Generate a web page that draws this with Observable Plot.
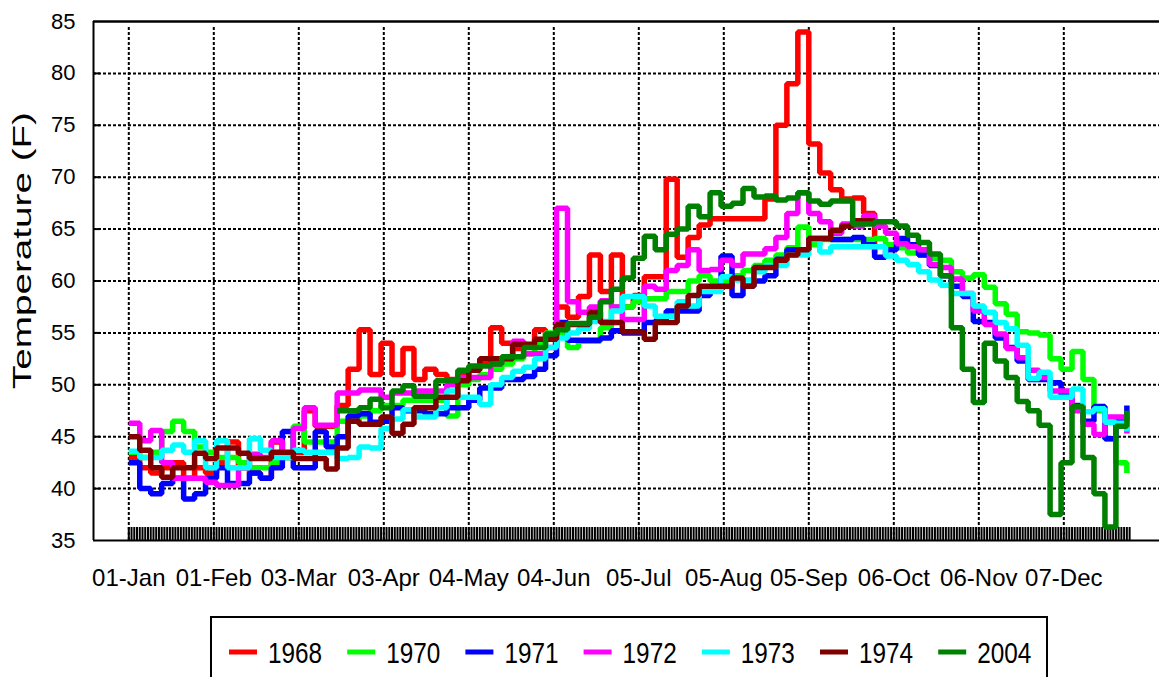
<!DOCTYPE html>
<html><head><meta charset="utf-8">
<script src="https://cdn.jsdelivr.net/npm/d3@7"></script>
<script src="https://cdn.jsdelivr.net/npm/@observablehq/plot@0.6"></script>
<style>
html,body{margin:0;padding:0;background:#fff;overflow:hidden;}
#chart{width:1159px;height:677px;position:relative;}
#chart svg{display:block;}
</style></head><body><div id="chart"></div>
<script>
// sample days (every 4 days, day 0 = 01-Jan)
const days = d3.range(0, 365, 4);
const tickDays = [0, 31, 62, 93, 124, 155, 186, 217, 248, 279, 310, 341];
const tickLabels = ["01-Jan","01-Feb","03-Mar","03-Apr","04-May","04-Jun","05-Jul","05-Aug","05-Sep","06-Oct","06-Nov","07-Dec"];
const yTicks = [35, 40, 45, 50, 55, 60, 65, 70, 75, 80, 85];
const years = ["1968","1970","1971","1972","1973","1974","2004"];
const colors = ["#ff0000","#00ff00","#0000ff","#ff00ff","#00ffff","#800000","#008000"];
const N = null;

const t1968 = [43,42,41.5,42,42.5,41,42,41.5,42.5,44.5,
42,41.5,41,44.5,43,43.5,47.5,46,46,48,
51.5,55.3,51,54,51,53.5,50.5,51.5,51,50.5,
51,51.5,52,55.5,54,53.5,53.8,55.3,54.5,57.5,
56.5,58.5,62.5,59,62.5,57.5,58.6,60.4,60.4,69.8,
62.3,64.2,65.4,66,66,66,66,66,67.9,75,
79,84,73.2,70.4,68.8,67.9,68,66.5,62.7,N,
N,N,N,N,N,N,N,N,N,N,
N,N,N,N,N,N,N,N,N,N,
N,N];
const t1970 = [43.5,43,43.5,45.5,46.5,45.5,44,43.5,43,43,
42.5,42,42,42.5,43,46,44.5,44.5,44.5,46.5,
46.5,47,47.5,48,48,48.5,48.5,48.5,48.5,47,
50,50.5,51,51.5,52,52.5,53,54,55,55,
53.6,54.2,54.2,55.5,57.5,57.5,58,58.3,58.3,59,
59,60,60.5,60,60,60.5,61,61.5,62,62.5,
63.2,65.2,63.5,64,64,64,64,64,64.1,63.5,
63.2,62.7,62.5,62.2,62,60.9,60.3,60.6,59.4,57.8,
56.8,55.1,55,54.8,52.5,51.5,53.2,50.5,47.5,44.8,
42.5,41.5];
const t1971 = [42.5,40,39.5,40.5,41,39,39.5,41,42,40.5,
40.5,41.5,41,42,45.5,42,42,45.5,44,45,
47,47.2,46.4,46.5,47.8,47.5,47.5,47.2,47.2,47.8,
47.8,48.5,49.7,49.7,50.5,50.5,50.8,51.5,52.8,56,
54.3,54.3,54.3,54.5,55.2,55,55,56,56.2,57.1,
57.1,57.1,58.6,59.1,62.4,58.6,59.5,60,60.5,62.1,
63,63,64.1,64.1,64,64,64.2,63.5,62.3,63,
64.1,63.5,62.5,61.5,60.5,59.5,58.5,56.1,56,54.5,
53.6,52.3,50.5,50.5,50.2,49,48,46.5,47.9,44.8,
46.6,48];
const t1972 = [46.3,44.6,45.6,42.5,41,41,41,40.6,40.3,40.3,
42,43.3,43,44.6,43.4,45.8,47.8,46.1,46.1,49.2,
49.2,49.5,49.5,48.8,49.2,49.2,49.4,49.4,49.4,50,
50.7,50.7,50.7,52,52.5,54.2,53,53,53.6,67,
58,57,57.5,58.1,57.5,56.3,56.3,59.5,59.2,61,
61.5,63,61,61.1,62,61.5,62.6,62.6,63.1,64.2,
66.5,68.5,66.5,65.7,64.6,65.5,65.3,66.3,65.3,64.6,
63.6,63.3,63,61.6,61.3,60.2,58.8,57.1,55.8,54.9,
53.5,52.6,51.4,50.7,49.4,49.4,47.5,46.2,45.2,46.9,
46.9,45.3];
const t1973 = [43.6,43,43,43.7,44.2,43.5,44.6,42,44.6,42,
42,44.8,43.7,43,43,43.7,43.5,43.5,43.5,42.9,
43,44,43.9,45.8,46.7,47.6,46.9,46.9,47.8,49.4,
48.8,48.8,48.1,50,50.7,51.3,51.7,52.5,53.6,54.5,
55,55.4,56.1,56.1,57.1,58.5,58.5,57.6,56.6,56.6,
58,57.6,59,59,60.4,60.1,60.1,60.9,61.5,61.5,
62.5,62.5,64,62.8,63.3,63.3,63.3,63.3,63.3,62.4,
62,61.6,60.9,60.1,59.6,58.8,58.8,57.6,57,56,
55.4,53.8,50.6,51.2,48.8,48.8,49.6,47.4,47.7,46.4,
46.3,45.5];
const t1974 = [45,43.7,42,41.1,42,42,43.4,42.9,43.9,43.9,
43.4,42.9,42.9,43.5,43.5,42.9,42.9,42.9,41.9,43.9,
46.5,46.2,46.2,46.9,45.3,46.2,47.8,47.8,48.8,48.8,
50.4,51.4,52.5,52.5,52.5,53.9,53.9,54.4,54.4,55.8,
55.8,55.8,57,56,56,55.1,55.1,54.4,56,56,
57.6,58.6,59.5,59.5,59.5,60.3,59.5,61.3,61.3,62,
62.5,63,64.1,64.1,64.9,65.3,65.8,65.8,65.5,N,
N,N,N,N,N,N,N,N,N,N,
N,N,N,N,N,N,N,N,N,N,
N,N];
const t2004 = [N,N,N,N,N,N,N,N,N,N,
N,N,N,N,N,N,N,N,N,47.5,
47.5,47.8,48.6,47.8,49.4,49.9,48.9,48.9,50.4,50.4,
51.4,51.8,51.8,52,52.7,52.7,53.6,53.6,54.9,55.3,
55.9,55.9,56.5,58,59.2,60.3,62.2,64.3,63,64.5,
65,67.2,66.2,68.5,67.2,67.5,68.9,68.1,68.2,67.8,
68,68.5,67.7,67.4,67.7,67.7,65.5,65.5,65.7,65.7,
65.3,64.4,63.7,62.6,60.5,55.5,51.5,48.3,54,52.3,
50.7,48.4,47.5,46.1,37.5,42.5,47.9,43,39.5,36.3,
46,47.5];

const series = [t1968, t1970, t1971, t1972, t1973, t1974, t2004];
const rows = years.flatMap((yr, k) => days.map((d, i) => ({year: yr, day: d, temp: series[k][i]})));
const xDomain = [-12.87, 375.9];
const dailyTicks = d3.range(0, 366);

const root = document.getElementById("chart");
const svg = Plot.plot({
  width: 1159, height: 600,
  marginLeft: 93, marginRight: 0, marginTop: 21, marginBottom: 60,
  style: {fontFamily: "'Liberation Sans', Arial, sans-serif", fontSize: "22px", background: "white", overflow: "visible", color: "black"},
  x: {domain: xDomain, label: null},
  y: {domain: [35, 85], label: null},
  color: {domain: years, range: colors},
  marks: [
    Plot.ruleY(yTicks.slice(1, -1), {stroke: "black", strokeWidth: 2, strokeDasharray: "3,2"}),
    Plot.ruleX(tickDays, {stroke: "black", strokeWidth: 2, strokeDasharray: "3,2", insetTop: 6}),
    Plot.ruleY(yTicks.slice(1, -1), {stroke: "black", strokeWidth: 2, insetRight: 1159 - 93 - 7}),
    Plot.ruleX(dailyTicks, {stroke: "black", strokeWidth: 2, insetTop: 506}),
    Plot.line(rows, {x: "day", y: "temp", z: "year", stroke: "year", curve: "step-after", strokeWidth: 5.5, strokeLinejoin: "miter", strokeLinecap: "butt"}),
    Plot.ruleY([35], {stroke: "black", strokeWidth: 2}),
    Plot.ruleY([85], {stroke: "black", strokeWidth: 2.5}),
    Plot.ruleX([xDomain[0]], {stroke: "black", strokeWidth: 2}),
    Plot.axisY({ticks: yTicks, tickSize: 0, tickPadding: 18, fontSize: 22, label: null, tickFormat: d => String(d)}),
    Plot.axisX({ticks: tickDays, tickSize: 0, tickPadding: 28, fontSize: 24, label: null, tickFormat: d => tickLabels[tickDays.indexOf(d)]}),
    Plot.text(["Temperature (F)"], {text: d => d, frameAnchor: "left", fontSize: 25})
  ]
});
root.appendChild(svg);

// stretch and place the y title
d3.select(svg).selectAll("text").each(function() {
  if (this.textContent === "Temperature (F)") {
    this.removeAttribute("x");
    this.removeAttribute("y");
    this.setAttribute("text-anchor", "middle");
    this.setAttribute("dy", "0.35em");
    this.setAttribute("transform", "translate(22,250) rotate(-90)");
    this.setAttribute("textLength", "277");
    this.setAttribute("lengthAdjust", "spacingAndGlyphs");
  }
});

// legend below the plot
const leg = d3.select(root).append("svg").attr("width", 1159).attr("height", 77)
  .style("font-family", "'Liberation Sans', Arial, sans-serif");
leg.append("rect").attr("x", 211).attr("y", 17).attr("width", 836).attr("height", 90)
  .attr("fill", "none").attr("stroke", "black").attr("stroke-width", 2);
years.forEach((yr, i) => {
  const x0 = 229 + i * 118.2;
  leg.append("line").attr("x1", x0).attr("x2", x0 + 28).attr("y1", 52).attr("y2", 52)
    .attr("stroke", colors[i]).attr("stroke-width", 5);
  const t = leg.append("text").attr("x", x0 + 39).attr("y", 63).attr("font-size", 30).attr("fill", "black").text(yr);
  const w = t.node().getComputedTextLength();
  t.attr("textLength", (w * 0.81).toFixed(1)).attr("lengthAdjust", "spacingAndGlyphs");
});
</script>
</body></html>
